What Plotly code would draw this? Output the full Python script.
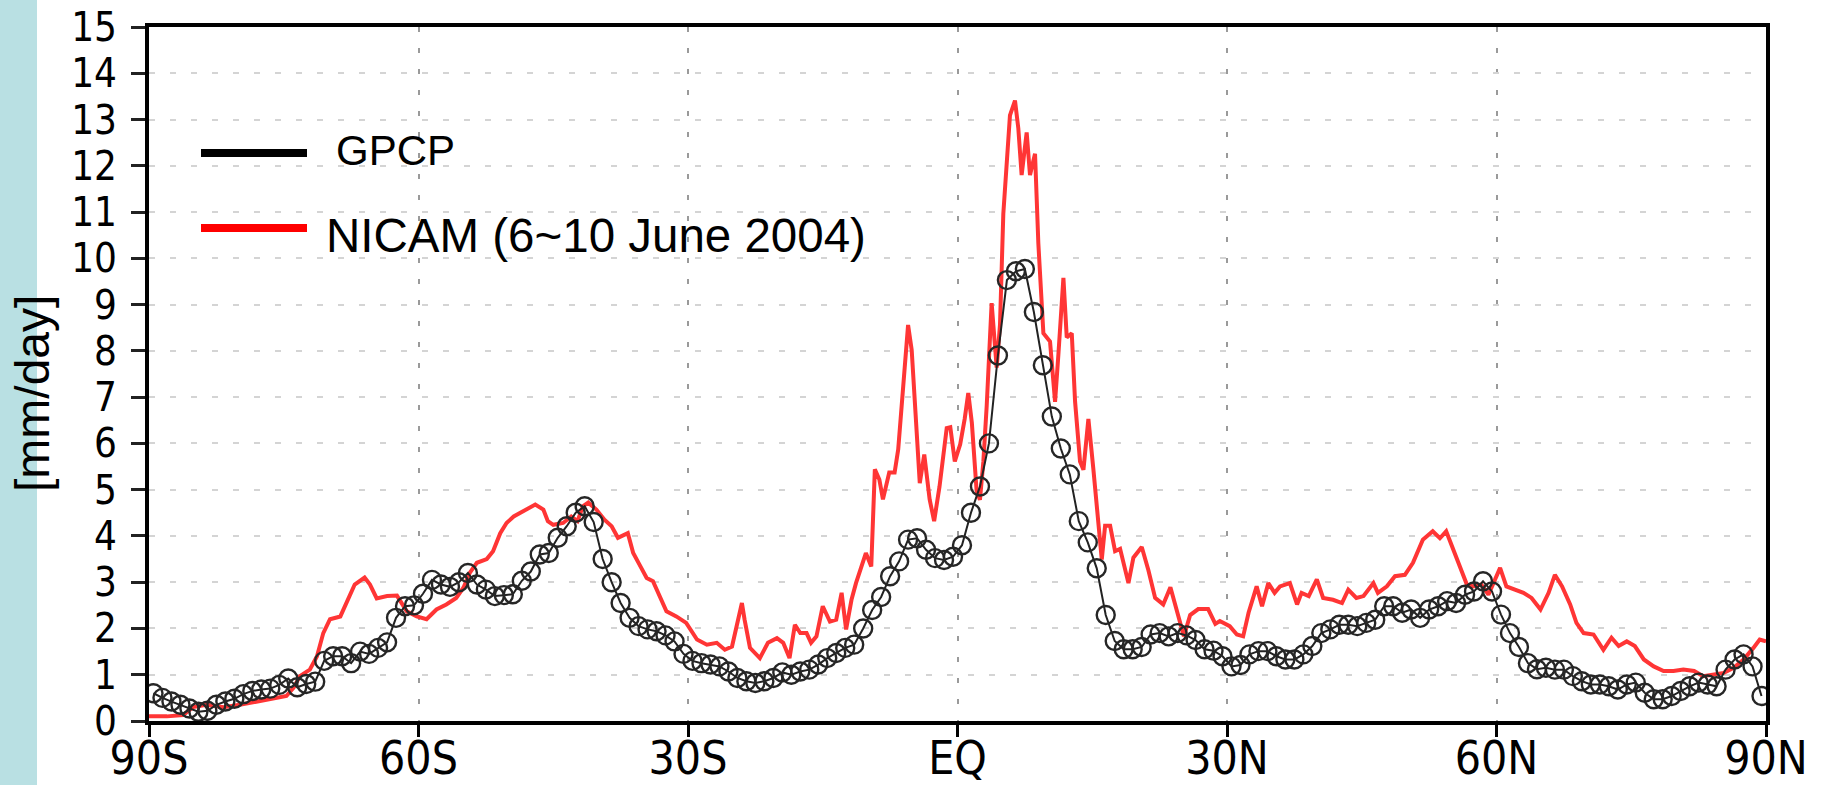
import numpy as np
import plotly.graph_objects as go

# ---------------- data ----------------
gpcp_lat = np.arange(-89.5, 90.0, 1.0)
gpcp_val = [
    0.60, 0.50, 0.42, 0.35, 0.27, 0.20, 0.22, 0.35, 0.42, 0.48,   # -89.5 .. -80.5
    0.58, 0.65, 0.68, 0.70, 0.78, 0.92, 0.73, 0.80, 0.85, 1.30,   # -79.5 .. -70.5
    1.40, 1.40, 1.25, 1.50, 1.45, 1.58, 1.70, 2.23, 2.48, 2.50,   # -69.5 .. -60.5
    2.75, 3.05, 2.95, 2.90, 3.00, 3.20, 2.95, 2.84, 2.70, 2.72,   # -59.5 .. -50.5
    2.74, 3.03, 3.23, 3.60, 3.63, 3.96, 4.21, 4.50, 4.64, 4.30,   # -49.5 .. -40.5
    3.50, 3.00, 2.55, 2.23, 2.05, 1.98, 1.94, 1.85, 1.72, 1.45,   # -39.5 .. -30.5
    1.30, 1.25, 1.22, 1.18, 1.07, 0.93, 0.86, 0.82, 0.86, 0.93,   # -29.5 .. -20.5
    1.05, 1.00, 1.07, 1.11, 1.22, 1.36, 1.47, 1.58, 1.65, 2.00,   # -19.5 .. -10.5
    2.40, 2.68, 3.13, 3.45, 3.92, 3.95, 3.70, 3.52, 3.48, 3.55,   # -9.5 .. -0.5
    3.80, 4.50, 5.07, 6.00, 7.90, 9.53, 9.72, 9.77, 8.84, 7.69,   # 0.5 .. 9.5
    6.58, 5.89, 5.33, 4.32, 3.86, 3.30, 2.29, 1.73, 1.55, 1.55,   # 10.5 .. 19.5
    1.60, 1.87, 1.90, 1.83, 1.90, 1.85, 1.75, 1.55, 1.52, 1.40,   # 20.5 .. 29.5
    1.18, 1.21, 1.44, 1.51, 1.51, 1.40, 1.33, 1.33, 1.44, 1.62,   # 30.5 .. 39.5
    1.90, 1.98, 2.08, 2.08, 2.05, 2.12, 2.19, 2.48, 2.48, 2.34,   # 40.5 .. 49.5
    2.41, 2.23, 2.41, 2.48, 2.59, 2.55, 2.73, 2.80, 3.02, 2.80,   # 50.5 .. 59.5
    2.30, 1.90, 1.60, 1.25, 1.12, 1.15, 1.11, 1.11, 0.97, 0.86,   # 60.5 .. 69.5
    0.79, 0.79, 0.75, 0.68, 0.79, 0.83, 0.61, 0.47, 0.47, 0.54,   # 70.5 .. 79.5
    0.65, 0.75, 0.83, 0.79, 0.75, 1.11, 1.33, 1.44, 1.18, 0.54,   # 80.5 .. 89.5
]

nicam_lat = [
    -90.0, -88.0, -86.2, -85.1, -83.6, -81.7, -79.9, -78.0, -76.2, -74.7,
    -73.9, -73.2, -72.1, -71.3, -70.6, -69.85, -68.7, -68.0, -67.1, -66.0,
    -65.4, -64.65, -63.5, -62.4, -61.3, -60.2, -59.1, -58.0, -56.9, -55.8,
    -55.0, -54.3, -53.5, -52.4, -51.7, -50.9, -50.2, -49.4, -48.3, -47.0,
    -46.1, -45.6, -45.0, -43.9, -43.0, -42.3, -41.7, -41.1, -40.2, -39.3,
    -38.5, -37.8, -36.7, -36.1, -35.4, -34.6, -33.9, -33.1, -32.4, -31.3,
    -30.2, -29.0, -27.9, -26.8, -25.9, -25.1, -24.6, -24.0, -23.7, -23.1,
    -22.0, -21.1, -20.1, -19.4, -18.7, -18.1, -17.5, -16.8, -16.3, -15.7,
    -15.0, -14.2, -13.5, -12.9, -12.4, -11.8, -11.3, -10.7, -10.2, -9.6,
    -9.2, -8.7, -8.3, -7.6, -7.0, -6.6, -6.1, -5.5, -5.1, -4.8,
    -4.2, -3.7, -3.1, -2.6, -2.0, -1.2, -0.8, -0.3, 0.3, 0.8,
    1.2, 1.6, 2.13, 2.5, 2.88, 3.25, 3.8, 4.36, 4.73, 5.1,
    5.47, 5.84, 6.4, 6.77, 7.14, 7.7, 8.07, 8.63, 9.0, 9.56,
    10.3, 10.86, 11.23, 11.79, 12.16, 12.72, 13.09, 13.64, 14.02, 14.57,
    15.13, 15.69, 16.06, 16.43, 16.99, 17.54, 18.1, 19.03, 19.58, 20.51,
    21.25, 22.0, 22.9, 23.7, 24.4, 25.2, 25.9, 26.8, 27.9, 28.7,
    29.2, 30.3, 31.1, 31.8, 32.4, 32.9, 33.3, 33.9, 34.6, 35.3,
    35.9, 37.0, 37.8, 38.3, 39.1, 40.0, 40.7, 41.8, 42.8, 43.5,
    44.4, 45.2, 46.3, 46.8, 47.8, 48.7, 49.8, 50.7, 51.8, 52.9,
    53.7, 54.4, 55.2, 55.9, 56.7, 57.4, 58.3, 59.1, 59.7, 60.4,
    61.1, 62.1, 63.0, 63.9, 64.9, 65.8, 66.5, 67.3, 68.2, 68.9,
    69.7, 70.8, 71.9, 72.8, 73.6, 74.5, 75.4, 76.4, 77.5, 78.6,
    79.7, 80.8, 82.0, 83.0, 84.2, 85.3, 86.4, 87.5, 88.6, 89.3,
    90.0,
]
nicam_val = [
    0.10, 0.10, 0.13, 0.30, 0.35, 0.30, 0.35, 0.42, 0.48, 0.54,
    0.72, 0.97, 1.11, 1.40, 1.90, 2.20, 2.26, 2.55, 2.95, 3.10,
    2.95, 2.65, 2.70, 2.71, 2.37, 2.26, 2.20, 2.41, 2.52, 2.66,
    2.88, 3.20, 3.42, 3.50, 3.67, 4.06, 4.28, 4.42, 4.53, 4.68,
    4.57, 4.32, 4.24, 4.28, 4.42, 4.32, 4.64, 4.72, 4.57, 4.35,
    4.21, 3.96, 4.06, 3.63, 3.38, 3.09, 3.02, 2.66, 2.37, 2.26,
    2.12, 1.76, 1.65, 1.69, 1.54, 1.61, 2.05, 2.55, 2.19, 1.58,
    1.36, 1.69, 1.79, 1.69, 1.36, 2.08, 1.90, 1.90, 1.69, 1.83,
    2.48, 2.15, 2.19, 2.77, 1.98, 2.62, 2.98, 3.34, 3.63, 3.34,
    5.44, 5.22, 4.79, 5.37, 5.37, 5.87, 7.09, 8.56, 8.02, 6.94,
    5.14, 5.76, 4.79, 4.32, 5.07, 6.33, 6.35, 5.61, 5.98, 6.53,
    7.09, 6.44, 4.97, 4.78, 5.61, 6.81, 9.03, 7.64, 8.56, 10.96,
    12.16, 13.09, 13.41, 12.81, 11.80, 12.72, 11.80, 12.26, 10.32, 8.38,
    8.20, 6.90, 7.92, 9.58, 8.29, 8.38, 6.90, 5.61, 5.43, 6.53,
    5.43, 4.32, 3.49, 4.22, 4.22, 3.67, 3.72, 2.98, 3.53, 3.76,
    3.26, 2.66, 2.52, 2.89, 2.38, 1.83, 2.29, 2.42, 2.42, 2.10,
    2.16, 2.05, 1.87, 1.83, 2.34, 2.70, 2.91, 2.48, 2.98, 2.77,
    2.91, 2.98, 2.52, 2.77, 2.70, 3.06, 2.66, 2.62, 2.55, 2.84,
    2.66, 2.70, 2.98, 2.77, 2.91, 3.13, 3.16, 3.42, 3.92, 4.10,
    3.95, 4.10, 3.70, 3.34, 2.95, 2.91, 2.95, 2.73, 3.00, 3.31,
    2.91, 2.84, 2.77, 2.66, 2.41, 2.77, 3.16, 2.91, 2.52, 2.12,
    1.90, 1.87, 1.54, 1.80, 1.62, 1.72, 1.62, 1.33, 1.18, 1.08,
    1.08, 1.11, 1.08, 0.97, 1.00, 1.04, 1.15, 1.33, 1.58, 1.76,
    1.72,
]

x_tickvals = [-90, -60, -30, 0, 30, 60, 90]
x_ticktext = ["90S", "60S", "30S", "EQ", "30N", "60N", "90N"]
y_tickvals = list(range(0, 16))

legend_names = ["GPCP", "NICAM (6~10 June 2004)"]
y_title = "[mm/day]"

# ---------------- layout geometry ----------------
W, H = 1824, 785
ML, MR, MT, MB = 149, 58, 27, 64
PW, PH = W - ML - MR, H - MT - MB


def px(xp):
    return (xp - ML) / PW


def py(yp):
    return (H - MB - yp) / PH


NARROW = "Liberation Sans Narrow, DejaVu Sans Condensed, Arial Narrow, Liberation Sans, sans-serif"
SANS = "Liberation Sans, Arial, Helvetica, sans-serif"

fig = go.Figure()

fig.add_trace(go.Scatter(
    x=nicam_lat, y=nicam_val, mode="lines", name=legend_names[1],
    line=dict(color="#ff3535", width=4), showlegend=False,
))
fig.add_trace(go.Scatter(
    x=gpcp_lat, y=gpcp_val, mode="lines+markers", name=legend_names[0],
    line=dict(color="#222222", width=2),
    marker=dict(symbol="circle-open", size=18, color="#262626", line=dict(width=2.4)),
    showlegend=False,
))

shapes = [
    # light blue strip at far left
    dict(type="rect", xref="paper", yref="paper",
         x0=px(0), x1=px(37), y0=py(H), y1=py(0),
         fillcolor="#b9e0e3", line=dict(width=0), layer="below"),
    # legend line samples
    dict(type="line", xref="paper", yref="paper",
         x0=px(201), x1=px(307), y0=py(153), y1=py(153),
         line=dict(color="black", width=8)),
    dict(type="line", xref="paper", yref="paper",
         x0=px(201), x1=px(307), y0=py(228), y1=py(228),
         line=dict(color="#ff0000", width=8)),
]

annotations = [
    dict(text=legend_names[0], xref="paper", yref="paper",
         x=px(334), y=py(150), xanchor="left", yanchor="middle",
         showarrow=False, font=dict(family=SANS, size=42, color="black")),
    dict(text=legend_names[1], xref="paper", yref="paper",
         x=px(324), y=py(236), xanchor="left", yanchor="middle",
         showarrow=False, font=dict(family=SANS, size=47.5, color="black")),
    dict(text=y_title, xref="paper", yref="paper", textangle=-90,
         x=px(32), y=py(394), xanchor="center", yanchor="middle",
         showarrow=False, font=dict(family=SANS, size=48, color="black")),
]

fig.update_layout(
    width=W, height=H,
    margin=dict(l=ML, r=MR, t=MT, b=MB, pad=0, autoexpand=False),
    paper_bgcolor="white", plot_bgcolor="white",
    shapes=shapes, annotations=annotations,
    showlegend=False,
)

fig.update_xaxes(
    range=[-90, 90], tickvals=x_tickvals, ticktext=x_ticktext,
    ticks="outside", ticklen=12, tickwidth=3, tickcolor="black",
    showline=True, linewidth=4, linecolor="black", mirror=True,
    showgrid=True, gridcolor="#9a9a9a", gridwidth=2, griddash="5px,16px",
    zeroline=False, ticklabelstandoff=-18, ticklabeloverflow="allow",
    automargin=False,
    tickfont=dict(family=NARROW, size=46, color="black"),
)
fig.update_yaxes(
    range=[0, 15], tickvals=y_tickvals,
    ticks="outside", ticklen=14, tickwidth=3, tickcolor="#222222",
    showline=True, linewidth=4, linecolor="black", mirror=True,
    showgrid=True, gridcolor="#d4d4d4", gridwidth=2, griddash="6px,15px",
    zeroline=False, ticklabelstandoff=6, ticklabeloverflow="allow",
    automargin=False,
    tickfont=dict(family=NARROW, size=40, color="black"),
)

fig.write_html(
    "out.html",
    config={"displayModeBar": False},
    post_script="document.body.style.margin='0';document.body.style.padding='0';"
                "document.documentElement.style.overflow='hidden';",
)
